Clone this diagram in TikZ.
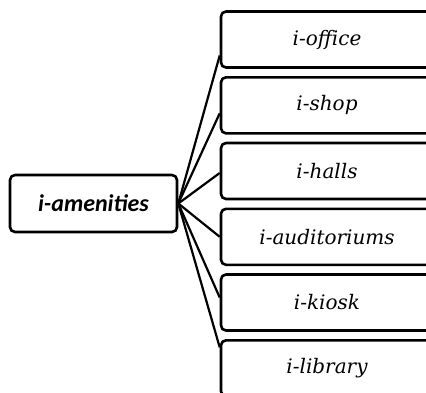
\documentclass[tikz,border=0pt]{standalone}
\usepackage{fontspec}
\setmainfont{DejaVu Serif}
\newfontfamily\calibri{Carlito}
\begin{document}
\begin{tikzpicture}[x=1pt, y=-1pt, line join=round]
        \tikzstyle{item}=[draw, line width=2.6pt, rounded corners=5pt, minimum width=212pt, minimum height=56pt, font=\fontsize{20}{22}\selectfont\itshape, inner sep=0pt];
        \tikzstyle{root}=[item, minimum width=167pt, minimum height=57pt, font=\calibri\fontsize{24}{26}\selectfont\bfseries\itshape];
        \tikzstyle{link}=[line width=2.2pt];

        \clip (0,0) rectangle (426,392);

        \node[root] (amen) at (93.5,203.5) {i-amenities};
        \node[item] (office) at (327,39.5) {i-office};
        \node[item] (shop) at (327,105.3) {i-shop};
        \node[item] (halls) at (327,171) {i-halls};
        \node[item] (audit) at (327,236.8) {i-auditoriums};
        \node[item] (kiosk) at (327,302.5) {i-kiosk};
        \node[item] (library) at (327,368.3) {i-library};

        \draw[link] (amen.east) -- ([yshift=-16pt]office.west);
        \draw[link] (amen.east) -- ([yshift=-8pt]shop.west);
        \draw[link] (amen.east) -- ([yshift=-2pt]halls.west);
        \draw[link] (amen.east) -- (audit.west);
        \draw[link] (amen.east) -- ([yshift=5pt]kiosk.west);
        \draw[link] (amen.east) -- ([yshift=21pt]library.west);
    \end{tikzpicture}
\end{document}
